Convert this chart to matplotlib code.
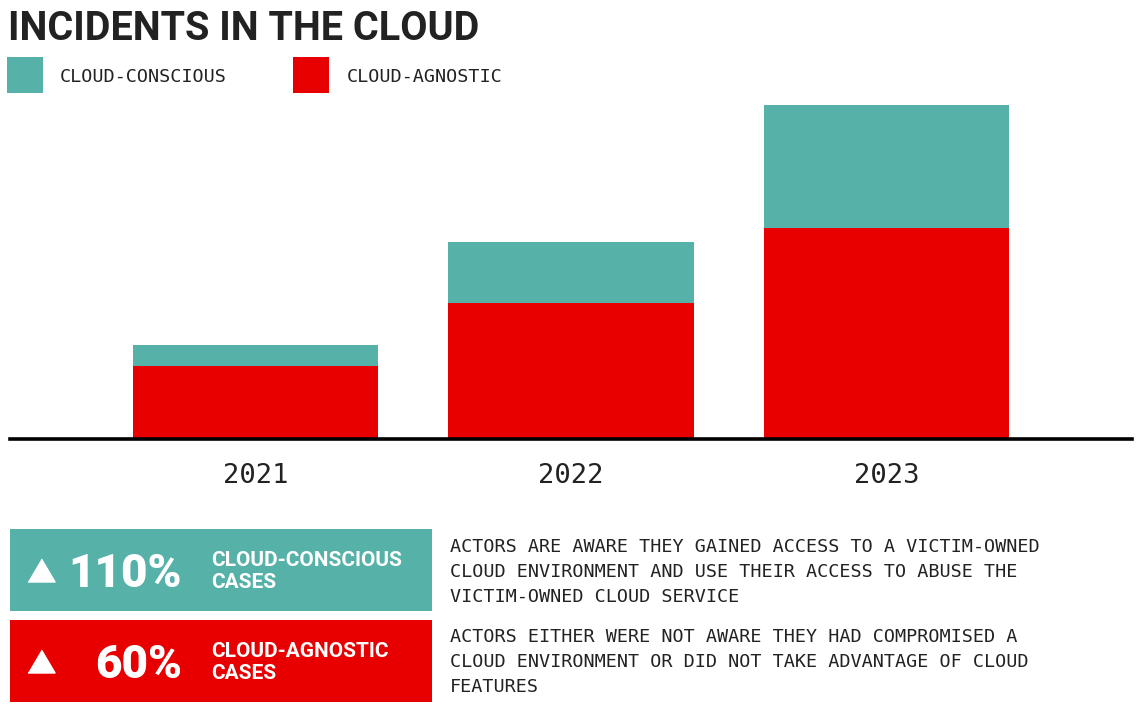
import matplotlib
matplotlib.use("Agg")
import matplotlib.pyplot as plt
from matplotlib.patches import Rectangle
from matplotlib.lines import Line2D

TITLE = "INCIDENTS IN THE CLOUD"
YEARS = ["2021", "2022", "2023"]
SERIES = ["CLOUD-CONSCIOUS", "CLOUD-AGNOSTIC"]
CONSCIOUS = [21, 61, 123]
AGNOSTIC = [73, 136, 211]
CHANGE = ["110%", "60%"]
CASE_LABELS = ["CLOUD-CONSCIOUS\nCASES", "CLOUD-AGNOSTIC\nCASES"]
DESCRIPTIONS = [
    "ACTORS ARE AWARE THEY GAINED ACCESS TO A VICTIM-OWNED\n"
    "CLOUD ENVIRONMENT AND USE THEIR ACCESS TO ABUSE THE\n"
    "VICTIM-OWNED CLOUD SERVICE",
    "ACTORS EITHER WERE NOT AWARE THEY HAD COMPROMISED A\n"
    "CLOUD ENVIRONMENT OR DID NOT TAKE ADVANTAGE OF CLOUD\n"
    "FEATURES",
]

TEAL = "#56B1A9"
RED = "#E80000"
DARK = "#222222"
MONO = "DejaVu Sans Mono"
SANS = "Roboto"

W, H = 1140, 718


def fx(x):
    return x / W


def fy(y):
    return 1 - y / H


fig = plt.figure(figsize=(W / 100, H / 100), dpi=100)
fig.patch.set_facecolor("white")

# title + legend
fig.text(fx(8), fy(40), TITLE, fontsize=28.5, fontweight="bold", family=SANS,
         color=DARK, va="baseline", ha="left")
for sq_x, txt_x, col, name in [(7, 60, TEAL, SERIES[0]), (293, 347, RED, SERIES[1])]:
    fig.add_artist(Rectangle((fx(sq_x), fy(93)), 36 / W, 36 / H,
                             transform=fig.transFigure, color=col, lw=0))
    fig.text(fx(txt_x), fy(82), name, fontsize=13.3, family=MONO,
             color=DARK, va="baseline", ha="left")

# bar chart
ax = fig.add_axes([fx(10), fy(439), 1122 / W, 339 / H])
xs = list(range(len(YEARS)))
bw = 245 / 315.3
ax.bar(xs, AGNOSTIC, width=bw, color=RED, lw=0, zorder=2)
ax.bar(xs, CONSCIOUS, width=bw, bottom=AGNOSTIC, color=TEAL, lw=0, zorder=2)
ax.set_xlim(-0.779, 2.779)
ax.set_ylim(0, 339)
for s in ["top", "right", "left"]:
    ax.spines[s].set_visible(False)
ax.spines["bottom"].set_linewidth(2.6)
ax.spines["bottom"].set_color("black")
ax.spines["bottom"].set_zorder(3)
ax.set_yticks([])
ax.set_xticks(xs)
ax.set_xticklabels(YEARS, family=MONO, fontsize=19.5, color=DARK)
ax.tick_params(axis="x", length=0, pad=17)
ax.patch.set_alpha(0)

# summary boxes
tri = [(-1, -0.85), (1, -0.85), (0, 0.85)]
for i, col in enumerate([TEAL, RED]):
    top = 529 + i * 91
    mid = top + 41
    fig.add_artist(Rectangle((fx(10), fy(top + 82)), 422 / W, 82 / H,
                             transform=fig.transFigure, color=col, lw=0))
    fig.add_artist(Line2D([fx(41)], [fy(mid)], marker=tri, markersize=19.5,
                          color="white", lw=0, transform=fig.transFigure))
    fig.text(fx(182), fy(mid + 17), CHANGE[i], fontsize=33, fontweight="heavy",
             family=SANS, color="white", ha="right", va="baseline")
    for j, line in enumerate(CASE_LABELS[i].split("\n")):
        fig.text(fx(211), fy(mid - 4 + j * 22), line, fontsize=15, fontweight="bold",
                 family=SANS, color="white", ha="left", va="baseline")
    for j, line in enumerate(DESCRIPTIONS[i].split("\n")):
        fig.text(fx(450), fy(552 + i * 90 + j * 25), line, fontsize=13.3,
                 family=MONO, color=DARK, ha="left", va="baseline")

fig.savefig("out.png", dpi=100, facecolor="white")
